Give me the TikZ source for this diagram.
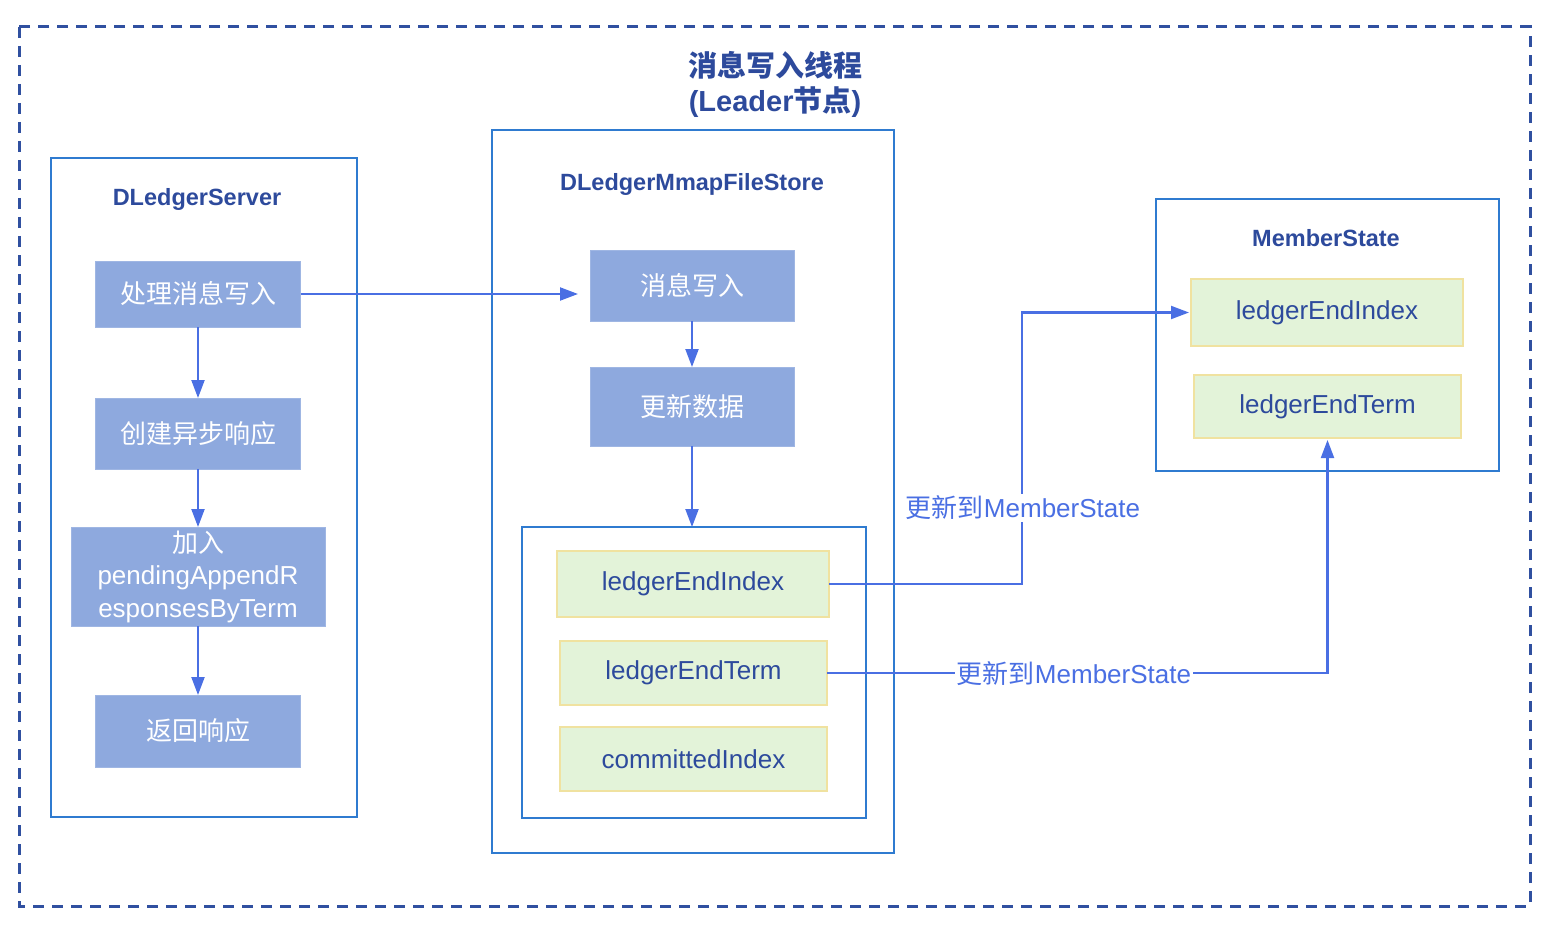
\documentclass[tikz,border=0pt]{standalone}
\usepackage{fontspec}
\setmainfont{Liberation Sans}
\newfontfamily\cjk{Noto Sans CJK SC}
\usetikzlibrary{arrows.meta}
\definecolor{frameblue}{HTML}{3050A0}
\definecolor{boxblue}{HTML}{2F7BD0}
\definecolor{arrblue}{HTML}{4A6FE3}
\definecolor{fillblue}{HTML}{8EA9DE}
\definecolor{fillgreen}{HTML}{E3F3D9}
\definecolor{edgeyellow}{HTML}{F0E2A0}
\definecolor{darktext}{HTML}{2D4A9C}
\tikzset{
  container/.style={draw=boxblue, line width=1.9pt, inner sep=0pt, outer sep=0pt},
  procbox/.style={fill=fillblue, draw=fillblue!85!white, line width=0.8pt, inner sep=0pt, outer sep=0pt, text=white, align=center, font=\fontsize{26}{32.5}\selectfont},
  fieldbox/.style={fill=fillgreen, draw=edgeyellow, line width=1.5pt, inner sep=0pt, outer sep=0pt, text=darktext, font=\fontsize{26}{32.5}\selectfont},
  boxtitle/.style={text=darktext, font=\bfseries\fontsize{23.5}{28}\selectfont},
  arr/.style={draw=arrblue, line width=2.1pt, -{Triangle[length=18pt,width=13pt]}},
  linklabel/.style={fill=white, inner sep=2pt, text=arrblue, font=\fontsize{26}{32}\selectfont}
}
\begin{document}
\begin{tikzpicture}[x=1pt,y=-1pt]
\useasboundingbox (0,0) rectangle (1550,928);
% outer dashed frame
\draw[draw=frameblue, line width=3pt, dash pattern=on 11pt off 8pt] (19,27) rectangle (1530,906);
\node[text=darktext, align=center, font=\bfseries\fontsize{29}{35}\selectfont] (title) at (775,84) {{\cjk 消息写入线程}\\(Leader{\cjk 节点})};

% containers
\node[container, minimum width=306pt, minimum height=659pt] (srv) at (204,487.5) {};
\node[boxtitle] (srvt) at (197,199) {DLedgerServer};
\node[container, minimum width=402pt, minimum height=723pt] (store) at (693,491.5) {};
\node[boxtitle] (storet) at (692,184) {DLedgerMmapFileStore};
\node[container, minimum width=344pt, minimum height=291pt] (inner) at (694,672.5) {};
\node[container, minimum width=343pt, minimum height=272pt] (ms) at (1327.5,335) {};
\node[boxtitle] (mst) at (1326,238) {MemberState};

% process boxes
\node[procbox, minimum width=205pt, minimum height=66pt] (p1) at (198,294) {{\cjk 处理消息写入}};
\node[procbox, minimum width=205pt, minimum height=71pt] (p2) at (198,433.5) {{\cjk 创建异步响应}};
\node[procbox, minimum width=254pt, minimum height=99pt] (p3) at (198,576.5) {{\cjk 加入}\\pendingAppendR\\esponsesByTerm};
\node[procbox, minimum width=205pt, minimum height=72pt] (p4) at (198,731) {{\cjk 返回响应}};
\node[procbox, minimum width=204pt, minimum height=71pt] (m1) at (692,285.5) {{\cjk 消息写入}};
\node[procbox, minimum width=204pt, minimum height=79pt] (m2) at (692,406.5) {{\cjk 更新数据}};

% field boxes
\node[fieldbox, minimum width=272pt, minimum height=66pt] (g1) at (693,584) {ledgerEndIndex};
\node[fieldbox, minimum width=267pt, minimum height=64pt] (g2) at (693.5,673) {ledgerEndTerm};
\node[fieldbox, minimum width=267pt, minimum height=64pt] (g3) at (693.5,759) {committedIndex};
\node[fieldbox, minimum width=272pt, minimum height=67pt] (r1) at (1327,312.5) {ledgerEndIndex};
\node[fieldbox, minimum width=267pt, minimum height=63pt] (r2) at (1327.5,406.5) {ledgerEndTerm};

% connectors
\draw[arr] (p1.south) -- (p2.north);
\draw[arr] (p2.south) -- (p3.north);
\draw[arr] (p3.south) -- (p4.north);
\draw[arr, shorten >=12pt] (p1.east) -- (p1.east -| m1.west);
\draw[arr] (m1.south) -- (m2.north);
\draw[arr] (m2.south) -- (m2.south |- inner.north);
\coordinate (c1) at (1022,0);
\draw[arr, shorten >=2pt] (g1.east) -- (g1.east -| c1) -- (c1 |- r1.west) -- (r1.west);
\draw[arr, shorten >=2pt] (g2.east) -| (r2.south);
\node[linklabel] (l1) at (1023,508) {{\cjk 更新到}MemberState};
\node[linklabel] (l2) at (1074,674) {{\cjk 更新到}MemberState};
\end{tikzpicture}
\end{document}
